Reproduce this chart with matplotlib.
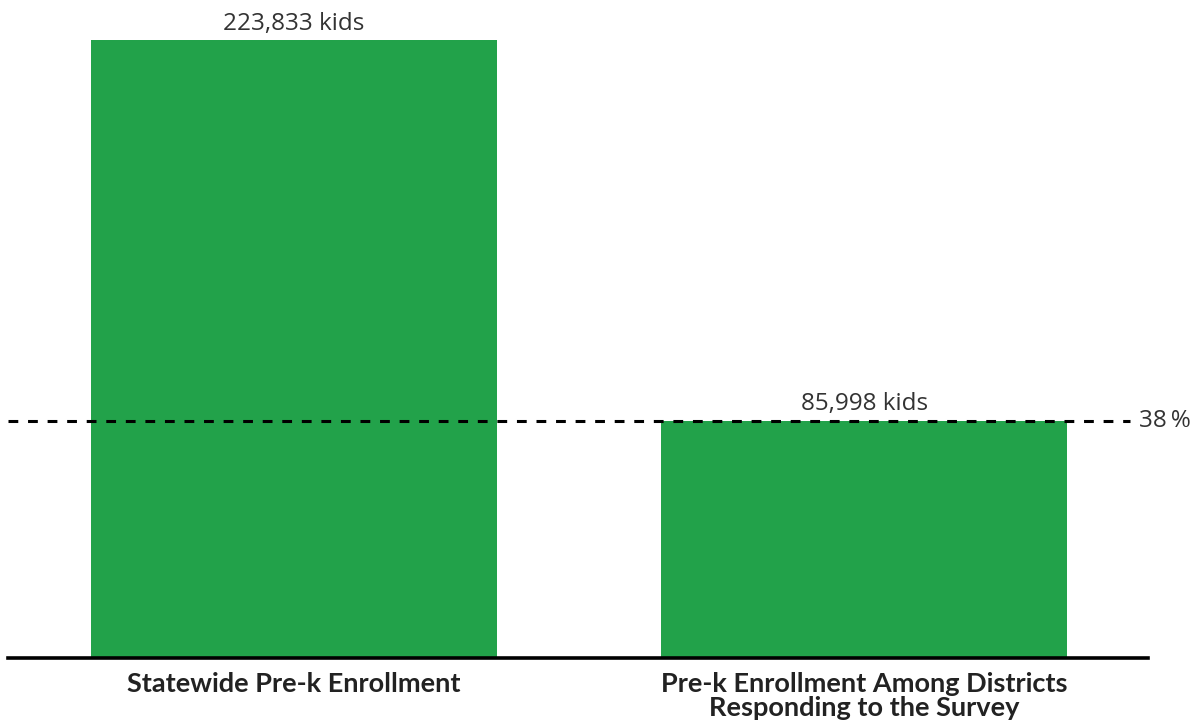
import matplotlib.pyplot as plt

categories = ["Statewide Pre-k Enrollment",
              "Pre-k Enrollment Among Districts\nResponding to the Survey"]
kids = [223833, 85998]
value_labels = ["223,833 kids", "85,998 kids"]
share_label = "38\u2009%"

fig = plt.figure(figsize=(12.04, 7.22), dpi=100)
ax = fig.add_axes([8 / 1204, 64 / 722, 1140 / 1204, 618 / 722])

ax.bar(range(len(kids)), kids, width=406 / 570, color="#22a24a", zorder=2)
ax.set_xlim(-0.502, 1.498)
ax.set_ylim(0, kids[0])

# dashed reference line at the second bar's level
ax.plot([-0.502, 1.466], [kids[1], kids[1]], color="black", linestyle=(0, (3.2, 3.2)),
        linewidth=2.2, zorder=3, clip_on=False)
ax.text(1.482, kids[1], share_label, fontsize=17.5, family="Open Sans", color="#333333",
        va="center", ha="left")

for i, lab in enumerate(value_labels):
    ax.text(i, kids[i] + 1500, lab, fontsize=17.5, family="Open Sans", color="#333333",
            ha="center", va="bottom")

for s in ["top", "right", "left"]:
    ax.spines[s].set_visible(False)
ax.spines["bottom"].set_linewidth(2.6)
ax.spines["bottom"].set_color("black")
ax.set_yticks([])
ax.set_xticks(range(len(categories)))
ax.set_xticklabels(categories, fontsize=19.5, family="Lato", fontweight="bold",
                   color="#222222", linespacing=1.02)
ax.tick_params(axis="x", length=0, pad=10)

fig.savefig("out.png", dpi=100)
